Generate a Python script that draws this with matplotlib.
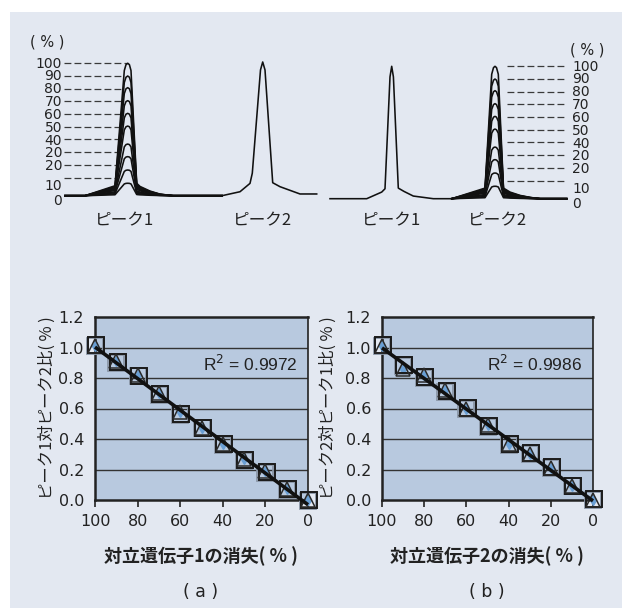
import numpy as np
import matplotlib
matplotlib.use("Agg")
import matplotlib.pyplot as plt
from matplotlib.patches import Rectangle

plt.rcParams['font.family'] = ['DejaVu Sans']
JP = ['Noto Sans CJK JP', 'DejaVu Sans']

# ---------------- data ----------------
# chromatogram (arbitrary retention-time units), signal in % of max peak
p1_left_t = [65, 85, 115, 124.3, 126, 127.7, 129.4, 131, 136.7, 140, 150, 160, 173, 222]
p1_left_v = [0, 0, 7.5, 94.5, 99, 100, 99, 94.5, 9.4, 7, 3.5, 1.2, 0, 0]
p2_left_t = [222, 240, 250, 252.3, 260.5, 262.7, 265, 272.7, 280, 300, 316.7]
p2_left_v = [0, 3.0, 9.3, 17, 95, 101, 95, 9.8, 6.8, 1.3, 1.3]

p1_right_t = [330, 366.7, 381.7, 385, 390, 391.7, 393.4, 398.3, 404, 413.3, 433.3, 451.7]
p1_right_v = [0, 0, 5, 7.5, 92, 100, 92, 8, 5.5, 2, 0, 0]
p2_right_t = [451.7, 485, 491.7, 493.5, 495, 496.5, 498.3, 503.5, 510, 520, 530, 540, 566.7]
p2_right_v = [0, 8, 94, 99, 100, 99, 94, 8, 5, 2.5, 1, 0, 0]

peak_levels = [100, 90.4, 81.6, 71.8, 62.2, 52.6, 39, 29.5, 19.4, 9.4]
guide_levels = [100, 90.4, 80.8, 71.2, 61.8, 52.2, 42.6, 33, 23.4, 13.7]
scale_labels = ["100", "90", "80", "70", "60", "50", "40", "20", "20", "10", "0"]
scale_label_pos = [99.7, 90.1, 80.4, 70.5, 60.8, 51.0, 41.3, 31.9, 22.4, 7.0, -4.2]

# regression panels
loss_pct = [100, 90, 80, 70, 60, 50, 40, 30, 20, 10, 0]
a_sq = [1.01, 0.90, 0.81, 0.69, 0.56, 0.47, 0.36, 0.255, 0.18, 0.065, -0.005]
a_tri = [1.01, 0.91, 0.82, 0.70, 0.58, 0.475, 0.37, 0.27, 0.19, 0.07, 0.0]
b_sq = [1.01, 0.88, 0.80, 0.71, 0.60, 0.48, 0.36, 0.30, 0.21, 0.09, 0.0]
b_tri = [1.01, 0.86, 0.82, 0.72, 0.60, 0.49, 0.37, 0.30, 0.21, 0.09, 0.0]
r2_a = "R$^2$ = 0.9972"
r2_b = "R$^2$ = 0.9986"

W, H = 625, 612
fig = plt.figure(figsize=(W / 100, H / 100), dpi=100)
fig.patch.set_facecolor('white')
fig.patches.append(Rectangle((10 / W, 1 - 608 / H), 612 / W, 596 / H,
                             transform=fig.transFigure, facecolor='#e3e8f1',
                             edgecolor='none', zorder=-10))


def px_axes(x0, y0, x1, y1):
    return fig.add_axes([x0 / W, 1 - y1 / H, (x1 - x0) / W, (y1 - y0) / H])


def ftext(x, y, s, **kw):
    fig.text(x / W, 1 - y / H, s, **kw)


ylim_top = (-14.58, 117.6)
LW = 1.15
dash_kw = dict(color='#3a3a3a', lw=0.9, dashes=(5.5, 2.5))
TXT = '#222222'

# ---- top left
axL = px_axes(20, 40, 320, 215)
axL.set_xlim(20, 320)
axL.set_ylim(*ylim_top)
axL.axis('off')
t = np.array(p1_left_t)
v = np.array(p1_left_v)
flank_t = t[2:6]
flank_v = v[2:6]
for lev in guide_levels:
    xe = np.interp(lev, flank_v, flank_t)
    axL.plot([64.3, xe], [lev, lev], **dash_kw)
for lev in peak_levels:
    axL.plot(t, v * lev / 100.0, color='#111111', lw=LW, solid_joinstyle='round')
axL.plot(p2_left_t, p2_left_v, color='#111111', lw=LW)
for lab, pos in zip(scale_labels, scale_label_pos):
    axL.text(62, pos, lab, ha='right', va='center', fontsize=10, color=TXT)
axL.text(47.5, 116, "( % )", ha='center', va='center', fontsize=10.5, color=TXT)

# ---- top right
axR = px_axes(320, 43, 625, 218)
axR.set_xlim(320, 625)
axR.set_ylim(*ylim_top)
axR.axis('off')
for lev in guide_levels:
    axR.plot([506.7, 566.7], [lev, lev], **dash_kw)
axR.plot(p1_right_t, p1_right_v, color='#111111', lw=LW)
tr = np.array(p2_right_t)
vr = np.array(p2_right_v)
for lev in peak_levels:
    axR.plot(tr, vr * lev / 100.0, color='#111111', lw=LW)
for lab, pos in zip(scale_labels, scale_label_pos):
    axR.text(572, pos, lab, ha='left', va='center', fontsize=10, color=TXT)
axR.text(586.7, 112, "( % )", ha='center', va='center', fontsize=10.5, color=TXT)

ftext(125, 221, "ピーク1", ha='center', va='center', fontsize=12, family=JP, color=TXT)
ftext(263, 221, "ピーク2", ha='center', va='center', fontsize=12, family=JP, color=TXT)
ftext(392, 221, "ピーク1", ha='center', va='center', fontsize=12, family=JP, color=TXT)
ftext(498, 221, "ピーク2", ha='center', va='center', fontsize=12, family=JP, color=TXT)


# ---- bottom regression panels
def reg_panel(rect, sq, tri, r2):
    ax = px_axes(*rect)
    ax.set_facecolor('#b8c9df')
    ax.set_xlim(100, 0)
    ax.set_ylim(0, 1.2)
    ax.set_yticks([0, 0.2, 0.4, 0.6, 0.8, 1.0, 1.2])
    ax.set_yticklabels(["%.1f" % v for v in [0, 0.2, 0.4, 0.6, 0.8, 1.0, 1.2]])
    ax.set_xticks([100, 80, 60, 40, 20, 0])
    ax.tick_params(axis='y', length=0, pad=8, labelsize=11.5, labelcolor=TXT)
    ax.tick_params(axis='x', length=5, width=1.2, direction='out', pad=5,
                   labelsize=11.5, labelcolor=TXT, color='#222')
    for yv in [0.2, 0.4, 0.6, 0.8, 1.0]:
        ax.axhline(yv, color='#333333', lw=1.0, zorder=1)
    for s in ['left', 'bottom', 'top', 'right']:
        ax.spines[s].set_color('#222222')
        ax.spines[s].set_linewidth(1.8)
    ax.spines['right'].set_linewidth(1.2)
    x = np.array(loss_pct, dtype=float)
    ya = np.array(sq)
    yb = np.array(tri)
    ax.plot(x, yb, linestyle='none', marker='d', ms=5, color='#6a9fd4',
            zorder=3, clip_on=False)
    ax.plot(x, ya, linestyle='none', marker='s', ms=11, mfc='none', mec='#8a96a6',
            mew=1.3, zorder=3, clip_on=False)
    ax.plot(x - 0.6, ya + 0.005, linestyle='none', marker='s', ms=11, mfc='none',
            mec='#1a1a1a', mew=1.4, zorder=4, clip_on=False)
    ax.plot(x, yb, linestyle='none', marker='^', ms=10, mfc='none', mec='#2a2a2a',
            mew=1.1, zorder=4, clip_on=False)
    k, b = np.polyfit(np.concatenate([x, x]), np.concatenate([ya, yb]), 1)
    xx = np.array([100.0, 0.0])
    ax.plot(xx, k * xx + b, color='#111111', lw=2.6, zorder=5, clip_on=False,
            solid_capstyle='butt')
    ax.text(0.95, 0.745, r2, transform=ax.transAxes, ha='right', va='center',
            fontsize=12.5, color=TXT, family=['Liberation Sans', 'DejaVu Sans'])
    return ax


reg_panel((95, 317, 308, 500), a_sq, a_tri, r2_a)
reg_panel((382, 317, 593, 500), b_sq, b_tri, r2_b)

ftext(47, 408, "ピーク1対ピーク2比( % )", rotation=90, ha='center', va='center',
      fontsize=11.8, family=JP, color=TXT)
ftext(328, 408, "ピーク2対ピーク1比( % )", rotation=90, ha='center', va='center',
      fontsize=11.8, family=JP, color=TXT)
ftext(201, 556, "対立遺伝子1の消失( % )", ha='center', va='center', fontsize=13,
      family=JP, weight='bold', color=TXT)
ftext(487, 556, "対立遺伝子2の消失( % )", ha='center', va='center', fontsize=13,
      family=JP, weight='bold', color=TXT)
ftext(201, 592, "( a )", ha='center', va='center', fontsize=12.5, color=TXT)
ftext(487, 592, "( b )", ha='center', va='center', fontsize=12.5, color=TXT)

fig.savefig("out.png", dpi=100, facecolor=fig.get_facecolor())
